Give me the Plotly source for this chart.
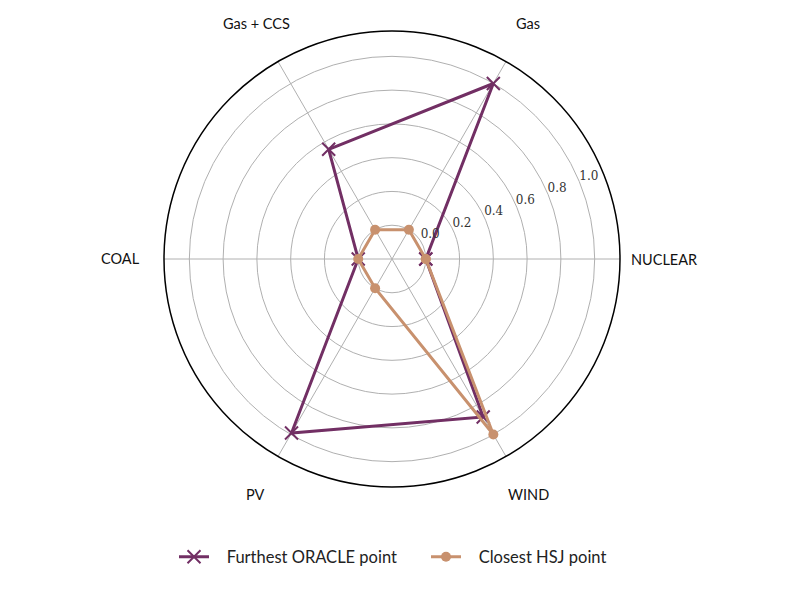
import math
import plotly.graph_objects as go

# technologies around the radar
categories = ["NUCLEAR", "Gas", "Gas + CCS", "COAL", "PV", "WIND"]

# normalised capacity values
oracle_vals = [0.0, 1.0, 0.55, 0.0, 0.99, 0.88]
hsj_vals = [0.0, 0.0, 0.0, 0.0, 0.0, 1.0]

radial_ticks = [0.0, 0.2, 0.4, 0.6, 0.8, 1.0]
radial_labels = ["0.0", "0.2", "0.4", "0.6", "0.8", "1.0"]

ORACLE_COLOR = "#722f64"
HSJ_COLOR = "#c8916e"

W, H = 785, 589
CX, CY, R = 384, 251, 228  # polar centre / radius in figure pixels
RRANGE = [-0.2, 1.15]
domain = dict(x=[(CX - R) / W, (CX + R) / W], y=[1 - (CY + R) / H, 1 - (CY - R) / H])

# close the polygons
theta = categories + categories[:1]

fig = go.Figure()
fig.add_trace(go.Scatterpolar(
    r=oracle_vals + oracle_vals[:1], theta=theta,
    mode="lines+markers", name="\u00a0\u00a0\u00a0Furthest ORACLE point",
    line=dict(color=ORACLE_COLOR, width=3),
    marker=dict(symbol="x-thin", size=13, line=dict(color=ORACLE_COLOR, width=2)),
))
fig.add_trace(go.Scatterpolar(
    r=hsj_vals + hsj_vals[:1], theta=theta,
    mode="lines+markers", name="\u00a0\u00a0\u00a0Closest HSJ point",
    line=dict(color=HSJ_COLOR, width=3),
    marker=dict(symbol="circle", size=10, color=HSJ_COLOR),
))
# empty trace so the overlay subplot (carrying the radial tick labels) is drawn
fig.add_trace(go.Scatterpolar(r=[], theta=[], subplot="polar2", showlegend=False, hoverinfo="skip"))

# category labels centred outside the circle, like matplotlib does
label_r = 272
for i, cat in enumerate(categories):
    a = math.radians(i * 360 / len(categories))
    fig.add_annotation(
        x=(CX + label_r * math.cos(a)) / W, y=1 - (CY - label_r * math.sin(a)) / H,
        xref="paper", yref="paper", text=cat, showarrow=False,
        xanchor="center", yanchor="middle", font=dict(size=14.5, color="#111"),
    )

fig.update_layout(
    width=W, height=H,
    margin=dict(l=0, r=0, t=0, b=0),
    paper_bgcolor="white",
    font=dict(family="Lato, DejaVu Sans, sans-serif", size=13, color="#111"),
    polar=dict(
        domain=domain,
        bgcolor="white",
        angularaxis=dict(
            direction="counterclockwise", rotation=0,
            categoryorder="array", categoryarray=categories,
            showline=True, linecolor="black", linewidth=1.5,
            gridcolor="#b0b0b0", gridwidth=1.2,
            ticks="", showticklabels=False,
        ),
        radialaxis=dict(
            range=RRANGE, tickvals=radial_ticks, showticklabels=False,
            showline=False, ticks="",
            gridcolor="#b0b0b0", gridwidth=1.2,
        ),
    ),
    # transparent overlay: radial labels sit just outside their grid circles
    polar2=dict(
        domain=domain,
        bgcolor="rgba(0,0,0,0)",
        angularaxis=dict(visible=False),
        radialaxis=dict(
            range=RRANGE, angle=20, tickangle=20, side="counterclockwise",
            tickvals=[v + 0.12 for v in radial_ticks], ticktext=radial_labels,
            showline=False, showgrid=False, ticks="",
            tickfont=dict(family="DejaVu Serif, serif", size=12, color="#333"),
        ),
    ),
    legend=dict(
        orientation="h", x=166 / W, xanchor="left", y=1 - 549 / H, yanchor="middle",
        font=dict(size=16.5, color="#222"), entrywidth=207,
    ),
)

fig.write_html("out.html")
